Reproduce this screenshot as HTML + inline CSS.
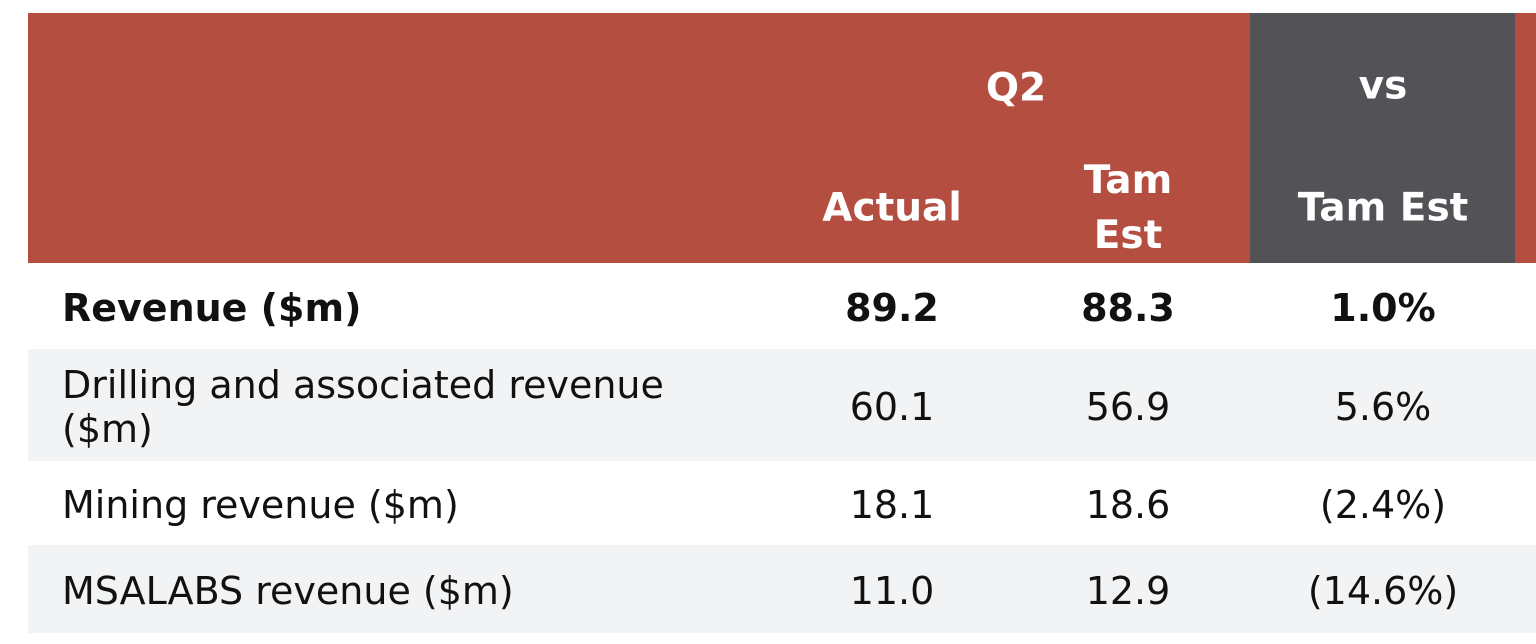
<!DOCTYPE html>
<html><head><meta charset="utf-8"><style>
body{margin:0;width:1536px;height:644px;background:#fff;position:relative;overflow:hidden;font-family:"DejaVu Sans","Liberation Sans",sans-serif;}
.a{position:absolute;}
.t{position:absolute;white-space:nowrap;line-height:1;}
.h{color:#fff;font-weight:bold;font-size:39px;transform:translate(-50%,-50%);}
.v{color:#111;font-size:38px;transform:translate(-50%,-50%);}
.l{color:#111;font-size:38px;left:62px;transform:translateY(-50%);}
</style></head><body>
<div class="a" style="left:28px;top:13px;width:1222px;height:250px;background:#b44e41"></div>
<div class="a" style="left:1250px;top:13px;width:265px;height:250px;background:#525257"></div>
<div class="a" style="left:1515px;top:13px;width:21px;height:250px;background:#b44e41"></div>
<div class="t h" style="left:1016px;top:88px">Q2</div>
<div class="t h" style="left:892px;top:208px">Actual</div>
<div class="t h" style="left:1128px;top:208px;text-align:center;line-height:55px">Tam<br>Est</div>
<div class="t h" style="left:1383px;top:86px">vs</div>
<div class="t h" style="left:1383px;top:208px">Tam Est</div>
<div id="rows"></div>
<script>
const labels=["Revenue ($m)","Drilling and associated revenue<br>($m)","Mining revenue ($m)","MSALABS revenue ($m)"];
const actual=["89.2","60.1","18.1","11.0"];
const tamEst=["88.3","56.9","18.6","12.9"];
const vsEst=["1.0%","5.6%","(2.4%)","(14.6%)"];
const rowTop=[263,349,461,545];
const rowH=[86,112,84,88];
const root=document.getElementById('rows');
for(let i=0;i<labels.length;i++){
  const r=document.createElement('div');
  r.className='a';
  
  
  r.style.cssText=`left:28px;top:${rowTop[i]}px;width:1508px;height:${rowH[i]}px;background:${i%2?'#f2f3f5':'#fff'}`;
  root.appendChild(r);
  const cy=rowTop[i]+rowH[i]/2+2;
  const bold=i===0?'font-weight:bold;':'';
  const l=document.createElement('div');
  l.className='t l';
  
  
  l.style.cssText=`top:${cy}px;${bold}`+(i===1?'line-height:44px;':'');
  l.innerHTML=labels[i];
  root.appendChild(l);
  const cols=[[892,actual[i]],[1128,tamEst[i]],[1383,vsEst[i]]];
  for(const [x,txt] of cols){
    const c=document.createElement('div');
    c.className='t v';
    
    
    c.style.cssText=`left:${x}px;top:${cy}px;${bold}`;
    c.textContent=txt;
    root.appendChild(c);
  }
}
</script>
</body></html>
